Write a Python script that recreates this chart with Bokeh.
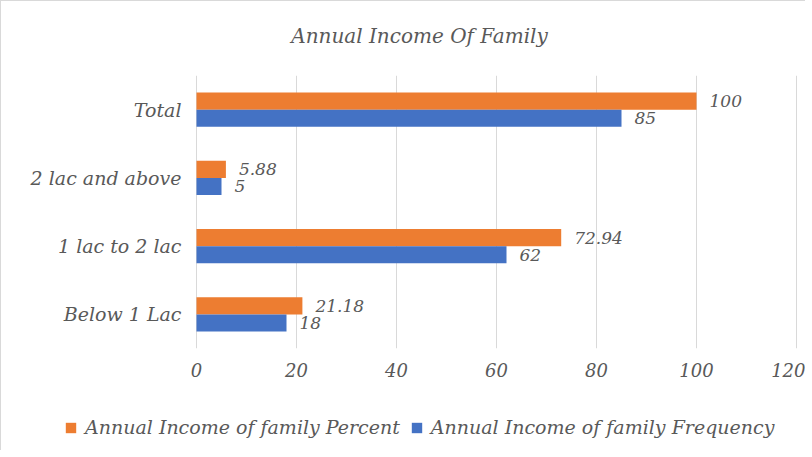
from bokeh.plotting import figure
from bokeh.layouts import column
from bokeh.models import (ColumnDataSource, LabelSet, Label, Legend, LegendItem, FactorRange,
                          Range1d, FixedTicker)
from bokeh.core.properties import value
from bokeh.transform import dodge
from bokeh.embed import file_html
from bokeh.resources import INLINE

categories = ["Below 1 Lac", "1 lac to 2 lac", "2 lac and above", "Total"]
percent = [21.18, 72.94, 5.88, 100]
frequency = [18, 62, 5, 85]
percent_labels = ["21.18", "72.94", "5.88", "100"]
frequency_labels = ["18", "62", "5", "85"]
x_ticks = [0, 20, 40, 60, 80, 100, 120]
series_names = ["Annual Income of family Percent", "Annual Income of family Frequency"]
chart_title = "Annual Income Of Family"

ORANGE = "#ED7D31"
BLUE = "#4472C4"
GRAY = "#595959"
FONT = "DejaVu Serif"
W = 804

src = ColumnDataSource(dict(cat=categories, pct=percent, freq=frequency,
                            pl=percent_labels, fl=frequency_labels))

# title strip
t = figure(width=W, height=60, output_backend="svg", toolbar_location=None,
           x_range=Range1d(0, W), y_range=Range1d(0, 60), min_border=0)
t.axis.visible = False
t.grid.visible = False
t.outline_line_color = None
t.add_layout(Label(x=418, y=26, text=chart_title, text_align="center", text_baseline="middle",
                   text_font=FONT, text_font_style="italic", text_font_size="20px",
                   text_color=GRAY))

# main chart: frame spans the full width; the value axis 0..120 is placed by the range
p = figure(width=W, height=329, output_backend="svg", toolbar_location=None,
           y_range=FactorRange(factors=categories, range_padding=0),
           x_range=Range1d(-39, 121.8),
           min_border_left=0, min_border_right=0, min_border_top=14, min_border_bottom=42)

p.hbar(y=dodge("cat", 0.125, range=p.y_range), right="pct", left=0, height=0.25,
       source=src, fill_color=ORANGE, line_color=None)
p.hbar(y=dodge("cat", -0.125, range=p.y_range), right="freq", left=0, height=0.25,
       source=src, fill_color=BLUE, line_color=None)

lab_pct = LabelSet(x="pct", y=dodge("cat", 0.125, range=p.y_range), text="pl", source=src,
                   x_offset=13, text_baseline="middle", text_font=value(FONT),
                   text_font_style="italic", text_font_size="17px", text_color=GRAY)
lab_freq = LabelSet(x="freq", y=dodge("cat", -0.125, range=p.y_range), text="fl", source=src,
                    x_offset=13, text_baseline="middle", text_font=value(FONT),
                    text_font_style="italic", text_font_size="17px", text_color=GRAY)
cat_labels = LabelSet(x=0, y="cat", text="cat", source=src, x_offset=-15,
                      text_align="right", text_baseline="middle", text_font=value(FONT),
                      text_font_style="italic", text_font_size="19px", text_color=GRAY)
p.add_layout(lab_pct)
p.add_layout(lab_freq)
p.add_layout(cat_labels)

p.outline_line_color = None
p.yaxis.visible = False
p.ygrid.grid_line_color = None
p.xaxis.ticker = FixedTicker(ticks=x_ticks)
p.xgrid.ticker = FixedTicker(ticks=x_ticks)
p.xgrid.grid_line_color = "#d9d9d9"
p.xaxis.axis_line_color = None
p.xaxis.major_tick_line_color = None
p.xaxis.minor_tick_line_color = None
p.xaxis.major_label_text_font = FONT
p.xaxis.major_label_text_font_style = "italic"
p.xaxis.major_label_text_color = GRAY
p.xaxis.major_label_text_font_size = "18px"
p.xaxis.major_label_standoff = 8

# legend strip below the chart
q = figure(width=W, height=60, output_backend="svg", toolbar_location=None,
           x_range=Range1d(0, 1), y_range=Range1d(0, 1), min_border=0)
q.axis.visible = False
q.grid.visible = False
q.outline_line_color = None
nan = float("nan")
leg_src = ColumnDataSource(dict(y=[nan], r=[nan]))
g1 = q.hbar(y="y", right="r", height=0.1, source=leg_src, fill_color=ORANGE, line_color=None)
g2 = q.hbar(y="y", right="r", height=0.1, source=leg_src, fill_color=BLUE, line_color=None)
legend = Legend(items=[LegendItem(label=series_names[0], renderers=[g1]),
                       LegendItem(label=series_names[1], renderers=[g2])],
                orientation="horizontal", location=(63, 12), margin=0, padding=0,
                label_text_font=FONT, label_text_font_style="italic", label_text_font_size="19px",
                label_text_color=GRAY, glyph_width=13, glyph_height=13, label_standoff=8,
                spacing=10, border_line_color=None, background_fill_alpha=0)
q.add_layout(legend, "center")

layout = column(t, p, q, spacing=0)
layout.styles = {"border-left": "1px solid #d9d9d9", "border-top": "1px solid #d9d9d9"}

open("out.html", "w").write(file_html(layout, INLINE))
